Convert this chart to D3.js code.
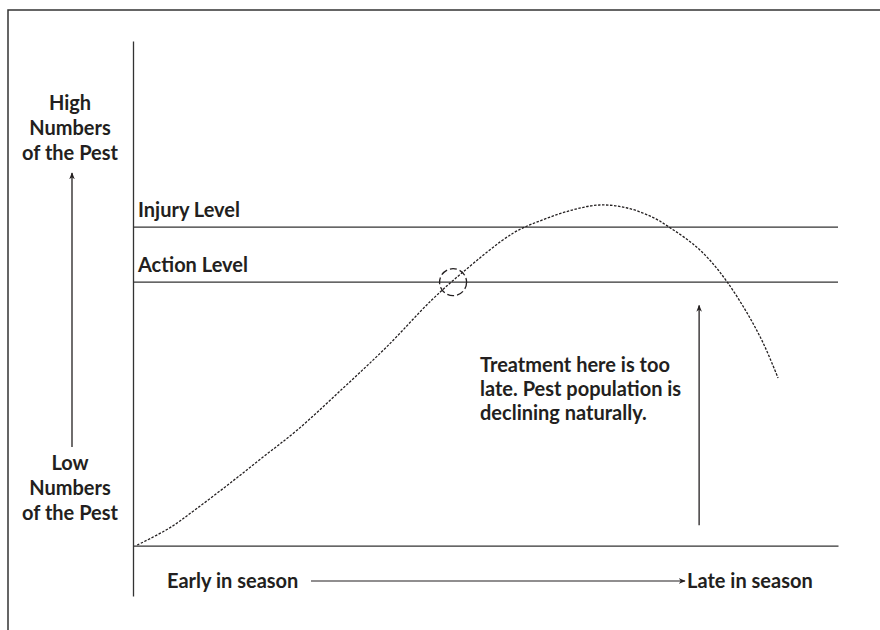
<!DOCTYPE html>
<html>
<head>
<meta charset="utf-8">
<script src="https://cdn.jsdelivr.net/npm/d3@7"></script>
<style>
  body { margin: 0; background: #fff; }
  text { font-family: Lato, "Open Sans", sans-serif; font-weight: 700; fill: #231f20; }
</style>
</head>
<body>
<script>
// season progress (0 = early, 100 = late) and pest numbers (0 = low, 100 = high)
var seasonX = [0.6, 5.2, 9.1, 13.8, 18.4, 23.3, 29.8, 36.0, 42.4, 46.8, 53.9, 58.2, 62.3, 66.2, 70.1, 73.8, 76.6, 79.4, 81.8, 84.3, 87.1, 89.4, 91.5];
var pestY   = [0.1, 3.5, 7.4, 12.4, 17.5, 22.9, 31.2, 39.4, 48.7, 54.2, 61.9, 64.6, 66.5, 67.5, 66.9, 65.0, 62.6, 59.8, 56.6, 52.2, 46.1, 40.1, 33.2];

var levelNames = ["Injury Level", "Action Level"];
var levelValues = [63.1, 52.2];

// point where the action level is first reached
var actionPoint = [45.4, 52.2];
// the "too late" arrow
var lateArrowX = 80.3;
var lateArrowY = [4.0, 47.6];

var yLabelsHigh = ["High", "Numbers", "of the Pest"];
var yLabelsLow = ["Low", "Numbers", "of the Pest"];
var noteLines = ["Treatment here is too", "late. Pest population is", "declining naturally."];

var svgWidth = 880;
var svgHeight = 630;
var fontSize = 20;

var svg = d3.select("body")
  .append("svg")
  .attr("width", svgWidth)
  .attr("height", svgHeight);

var ink = "#231f20";

// arrow marker
svg.append("defs").append("marker")
  .attr("id", "head")
  .attr("viewBox", "0 0 10 10")
  .attr("refX", 9)
  .attr("refY", 5)
  .attr("markerWidth", 7)
  .attr("markerHeight", 7)
  .attr("markerUnits", "userSpaceOnUse")
  .attr("orient", "auto")
  .append("path")
  .attr("d", "M0,1 L10,5 L0,9 L3,5 Z")
  .attr("fill", ink);

// outer frame (top + left only)
svg.append("path")
  .attr("d", "M880,10 H8 V630")
  .attr("fill", "none")
  .attr("stroke", "#333")
  .attr("stroke-width", 1.5);

// scales
var x = d3.scaleLinear().domain([0, 100]).range([133, 838]);
var y = d3.scaleLinear().domain([-10, 100]).range([596, 41]);

// axes (lines only)
var yAxis = d3.axisLeft(y).tickValues([]).tickSizeOuter(0);
svg.append("g")
  .attr("transform", `translate(${x(0)},0)`)
  .call(yAxis)
  .select(".domain").attr("stroke", "#333").attr("stroke-width", 1.3);

var xAxis = d3.axisBottom(x).tickValues([]).tickSizeOuter(0);
svg.append("g")
  .attr("transform", `translate(0,${y(0)})`)
  .call(xAxis)
  .select(".domain").attr("stroke", "#333").attr("stroke-width", 1.3);

// threshold lines
levelValues.forEach(function(v, i) {
  svg.append("line")
    .attr("x1", x(0)).attr("x2", x(100))
    .attr("y1", y(v)).attr("y2", y(v))
    .attr("stroke", "#333")
    .attr("stroke-width", 1.3);
  svg.append("text")
    .attr("x", x(0) + 5)
    .attr("y", y(v) - 10)
    .attr("font-size", fontSize)
    .text(levelNames[i]);
});

// pest population curve
var pts = seasonX.map(function(d, i) { return [d, pestY[i]]; });
var line = d3.line()
  .x(d => x(d[0]))
  .y(d => y(d[1]))
  .curve(d3.curveCatmullRom.alpha(0.5));

svg.append("path")
  .datum(pts)
  .attr("d", line)
  .attr("fill", "none")
  .attr("stroke", ink)
  .attr("stroke-width", 1.3)
  .attr("stroke-dasharray", "2.5,1.5");

// circle at action level
svg.append("circle")
  .attr("cx", x(actionPoint[0]))
  .attr("cy", y(actionPoint[1]))
  .attr("r", 13.5)
  .attr("fill", "none")
  .attr("stroke", ink)
  .attr("stroke-width", 1.3)
  .attr("stroke-dasharray", "7,3");

// vertical "too late" arrow
svg.append("line")
  .attr("x1", x(lateArrowX)).attr("x2", x(lateArrowX))
  .attr("y1", y(lateArrowY[0])).attr("y2", y(lateArrowY[1]))
  .attr("stroke", ink)
  .attr("stroke-width", 1.3)
  .attr("marker-end", "url(#head)");

// note text
svg.append("text")
  .attr("x", 480)
  .attr("y", 372)
  .attr("font-size", fontSize)
  .selectAll("tspan")
  .data(noteLines)
  .enter()
  .append("tspan")
  .attr("x", 480)
  .attr("dy", (d, i) => i === 0 ? 0 : 24)
  .text(d => d);

// left side labels
function stacked(lines, baseY) {
  svg.append("text")
    .attr("text-anchor", "middle")
    .attr("x", 70)
    .attr("y", baseY)
    .attr("font-size", fontSize)
    .selectAll("tspan")
    .data(lines)
    .enter()
    .append("tspan")
    .attr("x", 70)
    .attr("dy", (d, i) => i === 0 ? 0 : 25)
    .text(d => d);
}
stacked(yLabelsHigh, 110);
stacked(yLabelsLow, 470);

// left up arrow
svg.append("line")
  .attr("x1", 72).attr("x2", 72)
  .attr("y1", 447).attr("y2", 173)
  .attr("stroke", ink)
  .attr("stroke-width", 1.3)
  .attr("marker-end", "url(#head)");

// season labels and arrow
svg.append("text")
  .attr("x", 167)
  .attr("y", 588)
  .attr("font-size", fontSize)
  .text("Early in season");

svg.append("line")
  .attr("x1", 311).attr("x2", 685)
  .attr("y1", 581).attr("y2", 581)
  .attr("stroke", ink)
  .attr("stroke-width", 1.2)
  .attr("marker-end", "url(#head)");

svg.append("text")
  .attr("x", 687)
  .attr("y", 588)
  .attr("font-size", fontSize)
  .text("Late in season");
</script>
</body>
</html>
